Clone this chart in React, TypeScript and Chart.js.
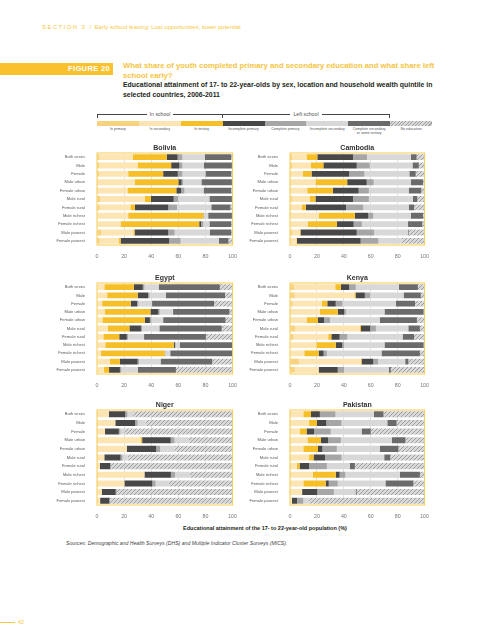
import React, { useEffect, useRef } from "react";
import { Chart, registerables } from "chart.js";
Chart.register(...registerables);

const sans = '"Liberation Sans", Arial, Helvetica, sans-serif';
Chart.defaults.font.family = sans;

const categories = ["Both sexes", "Male", "Female", "Male urban", "Female urban", "Male rural", "Female rural", "Male richest", "Female richest", "Male poorest", "Female poorest"];
const seriesNames = ["In primary", "In secondary", "In tertiary", "Incomplete primary", "Complete primary", "Incomplete secondary", "Complete secondary or some tertiary", "No education"];
const legendLabels = ["In primary", "In secondary", "In tertiary", "Incomplete primary", "Complete primary", "Incomplete secondary", "Complete secondary\nor some tertiary", "No education"];
const seriesColors = ["#F8D27E", "#FCE5B3", "#F6BE27", "#484848", "#A6A6A6", "#D8D8D8", "#6B6B6B", "hatch"];
const xTickValues = [0, 20, 40, 60, 80, 100];

// Bolivia
const boliviaInPrimary = [1.5, 1.5, 1.5, 1, 1, 2.5, 2, 0.5, 0.5, 3, 2];
const boliviaInSecondary = [25, 28.5, 21.5, 26.7, 21.5, 32.9, 22.6, 22.5, 16.9, 23.8, 14];
const boliviaInTertiary = [25, 24.7, 25.8, 32.3, 36, 4.3, 3.4, 55.4, 58, 0.9, 1.4];
const boliviaIncPrimary = [8, 6.1, 10.8, 2.4, 3.5, 16.9, 24.6, 0, 1.4, 24.9, 35.9];
const boliviaCompPrimary = [3.5, 2.2, 3.4, 1.2, 2.5, 3.3, 6.4, 0.6, 1.6, 4.7, 8.4];
const boliviaIncSecondary = [16.5, 15.9, 17, 13.4, 14.1, 23, 25.3, 3, 4.5, 26, 28.2];
const boliviaCompSecondary = [19.5, 20.6, 19, 22.5, 20.4, 16.6, 14.1, 17.5, 16.1, 15.7, 7.1];
const boliviaNoEducation = [1, 0.5, 1, 0.5, 1, 0.5, 1.6, 0.5, 1, 1, 3];

// Cambodia
const cambodiaInPrimary = [1.5, 1.5, 1, 1, 1, 1.5, 1, 1, 0.5, 1.5, 1];
const cambodiaInSecondary = [10.8, 14.1, 8.5, 17.9, 11.8, 13.2, 7.7, 20.3, 12.7, 5.6, 3.7];
const cambodiaInTertiary = [8, 9.2, 6.5, 23.6, 19.1, 4.2, 3.1, 26.9, 21.6, 0.7, 0.5];
const cambodiaIncPrimary = [26.5, 24.8, 28, 14.5, 19.1, 27.9, 29.8, 10, 12.5, 41.8, 47.3];
const cambodiaCompPrimary = [10.4, 9.7, 11.3, 5.2, 7.6, 11.8, 12.8, 3.7, 6.1, 12.8, 13.2];
const cambodiaIncSecondary = [32.6, 31.7, 33.4, 27.6, 29.6, 32.7, 33.8, 27.9, 34.3, 25.3, 17.3];
const cambodiaCompSecondary = [4.3, 4.7, 4.7, 9, 9.4, 3.3, 4, 9, 10.6, 0.5, 0];
const cambodiaNoEducation = [5.9, 4.3, 6.6, 1.2, 2.4, 5.4, 7.8, 1.2, 1.7, 11.8, 17];

// Egypt
const egyptInPrimary = [0.5, 0.5, 0.3, 0.4, 0.3, 0.5, 0.3, 0.4, 0.3, 0.5, 0.3];
const egyptInSecondary = [4.9, 7, 3.5, 5.5, 3.7, 7.5, 4.4, 5.7, 2.7, 8.9, 4.6];
const egyptInTertiary = [21.8, 22.5, 21.1, 33.5, 31.2, 15.9, 11.7, 50.5, 47, 7.5, 4];
const egyptIncPrimary = [6.6, 7.8, 4.7, 5.9, 3.8, 8.5, 5.6, 0.9, 0, 13.1, 8];
const egyptCompPrimary = [1.2, 1, 1, 1, 1, 1, 1, 0.5, 0.5, 1, 1];
const egyptIncSecondary = [10.5, 11.9, 10, 9.8, 8.8, 12.6, 11.7, 3, 3.5, 15.9, 12.1];
const egyptCompSecondary = [45.1, 43.7, 45.8, 41.6, 46, 46, 45.6, 39, 46, 38.1, 28.2];
const egyptNoEducation = [9.4, 5.6, 13.6, 2.3, 5.2, 8, 19.7, 0, 0, 15, 41.8];

// Kenya
const kenyaInPrimary = [3, 3.5, 2, 1, 1, 4, 2.5, 0.5, 0.5, 6.6, 3.5];
const kenyaInSecondary = [30.6, 44.3, 21.6, 21.2, 11.3, 48, 25.9, 19.1, 10.1, 46.1, 17.8];
const kenyaInTertiary = [4.2, 0.9, 4.1, 13.3, 8.5, 0.7, 2.3, 14.4, 10.7, 0.5, 0];
const kenyaIncPrimary = [6.2, 6.9, 6.3, 4.7, 4.5, 6.9, 6.2, 4.8, 3.7, 8.7, 14.2];
const kenyaCompPrimary = [4.9, 4, 5, 1.4, 4.5, 4.2, 5.7, 1.4, 2.4, 3.6, 4.7];
const kenyaIncSecondary = [32, 24.8, 39.7, 28.6, 36.9, 24.1, 41.1, 30, 40.6, 20.1, 33.3];
const kenyaCompSecondary = [14.1, 12.8, 14.2, 29.1, 27.6, 8.6, 8.5, 29.1, 28.5, 2.4, 1.4];
const kenyaNoEducation = [5, 2.8, 7.1, 0.7, 5.7, 3.5, 7.8, 0.7, 3.5, 12, 25.1];

// Niger
const nigerInPrimary = [1, 1, 0.8, 1, 1, 1, 0.5, 1, 1, 0.5, 0.5];
const nigerInSecondary = [7.7, 12.5, 5.1, 31.4, 21, 4.4, 1.6, 34, 19.2, 3, 1.8];
const nigerInTertiary = [0, 0, 0, 0.9, 0, 0, 0, 0, 0, 0, 0];
const nigerIncPrimary = [12.1, 14.6, 10.2, 21.1, 21.7, 12, 7.5, 19.5, 20.6, 10.3, 6.9];
const nigerCompPrimary = [1.7, 1.9, 1.2, 2.8, 2.9, 1.4, 0.7, 3, 2.4, 0.8, 0];
const nigerIncSecondary = [4.2, 5.7, 2.8, 10.6, 10.4, 3.7, 0, 11, 9.8, 0, 0];
const nigerCompSecondary = [0, 0, 0, 0, 0, 0, 0, 0, 0, 0, 0];
const nigerNoEducation = [73.3, 64.3, 79.9, 32.2, 43, 77.5, 89.7, 31.5, 47, 85.4, 90.8];

// Pakistan
const pakistanInPrimary = [1, 1, 1, 1, 1, 1, 1, 1, 1, 1, 0.5];
const pakistanInSecondary = [8.9, 13.2, 6.1, 12, 8.9, 13.2, 4.2, 16, 8.9, 8, 0.9];
const pakistanInTertiary = [5.7, 5.7, 5.2, 9.9, 10.9, 3.3, 1.9, 17, 16.6, 0, 0];
const pakistanIncPrimary = [6.6, 7.1, 5.7, 5.5, 3.3, 8.5, 7.1, 2.9, 2.3, 11.3, 3.8];
const pakistanCompPrimary = [11.6, 11.3, 12.3, 9.4, 10.7, 12.3, 13.2, 4.2, 6.7, 12.3, 4.7];
const pakistanIncSecondary = [28.6, 34, 22.9, 37.9, 31.9, 31.7, 17, 40.5, 35.4, 16.1, 4.3];
const pakistanCompSecondary = [7.1, 6.9, 6.8, 10.1, 13.9, 4.5, 3.8, 14.9, 20.8, 0.9, 0];
const pakistanNoEducation = [30.5, 20.8, 40, 14.2, 19.4, 25.5, 51.8, 3.5, 8.3, 50.4, 85.8];

const panels = [
  { title: "Bolivia", left: 20, top: 144, width: 225, height: 115, series: [boliviaInPrimary, boliviaInSecondary, boliviaInTertiary, boliviaIncPrimary, boliviaCompPrimary, boliviaIncSecondary, boliviaCompSecondary, boliviaNoEducation] },
  { title: "Cambodia", left: 213, top: 144, width: 224, height: 115, series: [cambodiaInPrimary, cambodiaInSecondary, cambodiaInTertiary, cambodiaIncPrimary, cambodiaCompPrimary, cambodiaIncSecondary, cambodiaCompSecondary, cambodiaNoEducation] },
  { title: "Egypt", left: 20, top: 274, width: 225, height: 114, series: [egyptInPrimary, egyptInSecondary, egyptInTertiary, egyptIncPrimary, egyptCompPrimary, egyptIncSecondary, egyptCompSecondary, egyptNoEducation] },
  { title: "Kenya", left: 213, top: 274, width: 224, height: 114, series: [kenyaInPrimary, kenyaInSecondary, kenyaInTertiary, kenyaIncPrimary, kenyaCompPrimary, kenyaIncSecondary, kenyaCompSecondary, kenyaNoEducation] },
  { title: "Niger", left: 20, top: 401, width: 225, height: 118, series: [nigerInPrimary, nigerInSecondary, nigerInTertiary, nigerIncPrimary, nigerCompPrimary, nigerIncSecondary, nigerCompSecondary, nigerNoEducation] },
  { title: "Pakistan", left: 213, top: 401, width: 224, height: 118, series: [pakistanInPrimary, pakistanInSecondary, pakistanInTertiary, pakistanIncPrimary, pakistanCompPrimary, pakistanIncSecondary, pakistanCompSecondary, pakistanNoEducation] },
];

function makeHatch(): CanvasPattern | string {
  const c = document.createElement("canvas");
  c.width = 4;
  c.height = 4;
  const g = c.getContext("2d");
  if (!g) return "#C4C4C4";
  g.fillStyle = "#D9D9D9";
  g.fillRect(0, 0, 4, 4);
  g.strokeStyle = "#9E9E9E";
  g.lineWidth = 1;
  g.beginPath();
  g.moveTo(0, 4); g.lineTo(4, 0);
  g.moveTo(-1, 1); g.lineTo(1, -1);
  g.moveTo(3, 5); g.lineTo(5, 3);
  g.stroke();
  return g.createPattern(c, "repeat") || "#C4C4C4";
}

const plotBorder = {
  id: "plotBorder",
  afterDatasetsDraw(chart: any) {
    const { ctx, chartArea } = chart;
    ctx.save();
    ctx.strokeStyle = "#F7CB4F";
    ctx.lineWidth = 1;
    ctx.strokeRect(chartArea.left, chartArea.top, chartArea.right - chartArea.left, chartArea.bottom - chartArea.top);
    ctx.restore();
  },
};

function Panel(props: { title: string; left: number; top: number; width: number; height: number; series: number[][] }) {
  const ref = useRef<HTMLCanvasElement | null>(null);
  useEffect(() => {
    if (!ref.current) return;
    const hatch = makeHatch();
    const chart = new Chart(ref.current, {
      type: "bar",
      data: {
        labels: categories,
        datasets: seriesNames.map((name, i) => ({
          label: name,
          data: props.series[i],
          backgroundColor: i === 7 ? hatch : seriesColors[i],
          borderWidth: 0,
          barPercentage: 0.7,
          categoryPercentage: 1,
        })),
      },
      options: {
        indexAxis: "y",
        responsive: false,
        animation: false,
        events: [],
        layout: { padding: { left: 0, right: 6, top: 0, bottom: 0 } },
        plugins: {
          legend: { display: false },
          tooltip: { enabled: false },
          title: {
            display: true,
            text: props.title,
            fullSize: false,
            color: "#333333",
            font: { size: 7, weight: "bold", family: sans, lineHeight: 1.2 },
            padding: { top: 0, bottom: 0.6 },
          },
        },
        scales: {
          x: {
            stacked: true,
            min: 0,
            max: 100,
            afterBuildTicks: (s: any) => { s.ticks = xTickValues.map((v) => ({ value: v })); },
            ticks: { color: "#777777", font: { size: 5.3 }, padding: 8 },
            grid: {
              drawTicks: false,
              lineWidth: 0.7,
              color: (c: any) => (c.tick && (c.tick.value === 0 || c.tick.value === 100) ? "rgba(0,0,0,0)" : "#D6D6D6"),
            },
            border: { display: false },
            afterFit: (s: any) => { s.height = 14; },
          },
          y: {
            stacked: true,
            ticks: { color: "#5A5A5A", font: { size: 4.1 }, padding: 4, autoSkip: false },
            grid: { display: false },
            border: { display: false },
            afterFit: (s: any) => { s.width = 77; },
          },
        },
      },
      plugins: [plotBorder],
    } as any);
    return () => chart.destroy();
  }, []);
  return (
    <canvas
      ref={ref}
      width={props.width}
      height={props.height}
      style={{ position: "absolute", left: props.left, top: props.top, width: props.width, height: props.height }}
    />
  );
}

const hatchCss = "repeating-linear-gradient(135deg, #D9D9D9 0px, #D9D9D9 1.6px, #9E9E9E 1.6px, #9E9E9E 2.4px)";

export default function App() {
  return (
    <div style={{ position: "absolute", left: 0, top: 0, width: 495, height: 640, background: "#ffffff", fontFamily: sans, overflow: "hidden" }}>
      <div style={{ position: "absolute", left: 42, top: 24, fontSize: 6, lineHeight: "6px", color: "#F5C842", whiteSpace: "nowrap" }}>
        <span style={{ letterSpacing: 1.4 }}>SECTION 3</span>
        <span>&nbsp;&nbsp;/&nbsp;&nbsp;Early school leaving: Lost opportunities, lower potential</span>
      </div>

      <div style={{ position: "absolute", left: 0, top: 63, width: 113, height: 12, background: "#F9C12E", color: "#ffffff", fontWeight: "bold", fontSize: 7.6, lineHeight: "12px", textAlign: "right", paddingRight: 3, boxSizing: "border-box", letterSpacing: 0.3 }}>
        FIGURE 20
      </div>

      <div style={{ position: "absolute", left: 123, top: 61, fontSize: 7.7, lineHeight: "10px", fontWeight: "bold", color: "#F6C443", whiteSpace: "nowrap" }}>
        What share of youth completed primary and secondary education and what share left
        <br />
        school early?
      </div>

      <div style={{ position: "absolute", left: 123, top: 80, fontSize: 6.9, lineHeight: "10px", fontWeight: "bold", color: "#231F20", whiteSpace: "nowrap" }}>
        Educational attainment of 17- to 22-year-olds by sex, location and household wealth quintile in
        <br />
        selected countries, 2006-2011
      </div>

      <div style={{ position: "absolute", left: 97, top: 114, width: 126, height: 4, borderTop: "1px solid #444", borderLeft: "1px solid #444", borderRight: "1px solid #444", boxSizing: "border-box" }} />
      <div style={{ position: "absolute", left: 97, top: 111, width: 126, textAlign: "center", fontSize: 5.2, lineHeight: "6px", color: "#555" }}>
        <span style={{ background: "#fff", padding: "0 3px" }}>In school</span>
      </div>
      <div style={{ position: "absolute", left: 222, top: 114, width: 168, height: 4, borderTop: "1px solid #444", borderRight: "1px solid #444", boxSizing: "border-box" }} />
      <div style={{ position: "absolute", left: 222, top: 111, width: 168, textAlign: "center", fontSize: 5.2, lineHeight: "6px", color: "#555" }}>
        <span style={{ background: "#fff", padding: "0 3px" }}>Left school</span>
      </div>

      <div style={{ position: "absolute", left: 97, top: 121, width: 335, height: 4.5, display: "flex" }}>
        {seriesColors.map((c, i) => (
          <div key={i} style={{ flex: 1, background: i === 7 ? hatchCss : c }} />
        ))}
      </div>
      <div style={{ position: "absolute", left: 97, top: 127, width: 335, display: "flex" }}>
        {legendLabels.map((l, i) => (
          <div key={i} style={{ flex: 1, textAlign: "center", fontSize: 3.6, lineHeight: "4px", color: "#555", whiteSpace: "pre-line" }}>{l}</div>
        ))}
      </div>

      {panels.map((p) => (
        <Panel key={p.title} {...p} />
      ))}

      <div style={{ position: "absolute", left: 0, width: 530, top: 525, textAlign: "center", fontSize: 5.5, lineHeight: "6px", fontWeight: "bold", color: "#231F20" }}>
        Educational attainment of the 17- to 22-year-old population (%)
      </div>
      <div style={{ position: "absolute", left: 66, top: 540, fontSize: 5.15, lineHeight: "6px", fontStyle: "italic", color: "#444", whiteSpace: "nowrap" }}>
        Sources: Demographic and Health Surveys (DHS) and Multiple Indicator Cluster Surveys (MICS).
      </div>

      <div style={{ position: "absolute", left: 0, top: 622, width: 15, height: 0, borderTop: "1px solid #F5C842" }} />
      <div style={{ position: "absolute", left: 18, top: 619, fontSize: 5.5, lineHeight: "6px", color: "#F5C842" }}>42</div>
    </div>
  );
}
